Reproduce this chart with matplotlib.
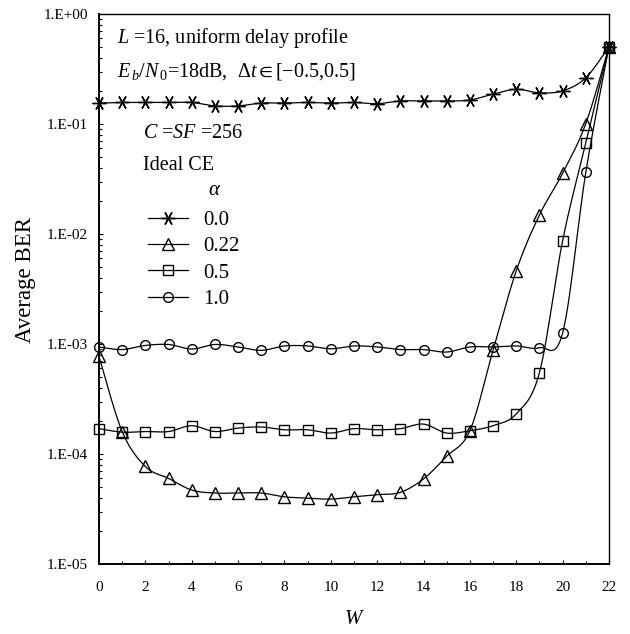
import numpy as np
import matplotlib
matplotlib.use("Agg")
import matplotlib.pyplot as plt
from matplotlib.lines import Line2D
from matplotlib.ticker import FixedLocator, FixedFormatter, NullFormatter

plt.rcParams['font.family'] = ['Liberation Serif', 'DejaVu Serif']
plt.rcParams['mathtext.fontset'] = 'custom'
plt.rcParams['mathtext.rm'] = 'Liberation Serif'
plt.rcParams['mathtext.it'] = 'Liberation Serif:italic'
plt.rcParams['mathtext.bf'] = 'Liberation Serif:bold'
plt.rcParams['mathtext.fallback'] = 'stix'

# ---------------- data ----------------
W = list(range(0, 23))
alpha_labels = ['0.0', '0.22', '0.5', '1.0']
ber_a00 = [0.155, 0.157, 0.157, 0.157, 0.157, 0.146, 0.146, 0.155, 0.155, 0.157, 0.155,
           0.157, 0.153, 0.162, 0.162, 0.162, 0.165, 0.187, 0.207, 0.192, 0.200, 0.263, 0.505]
ber_a022 = [7.7e-4, 1.60e-4, 7.7e-5, 6.0e-5, 4.7e-5, 4.42e-5, 4.42e-5, 4.42e-5, 4.08e-5,
            3.97e-5, 3.89e-5, 4.08e-5, 4.27e-5, 4.48e-5, 5.94e-5, 9.55e-5, 1.63e-4, 8.8e-4,
            4.64e-3, 0.0149, 0.0356, 0.101, 0.505]
ber_a05 = [1.70e-4, 1.58e-4, 1.60e-4, 1.60e-4, 1.81e-4, 1.60e-4, 1.72e-4, 1.76e-4, 1.66e-4,
           1.66e-4, 1.55e-4, 1.70e-4, 1.66e-4, 1.70e-4, 1.87e-4, 1.55e-4, 1.63e-4, 1.81e-4,
           2.32e-4, 5.5e-4, 8.7e-3, 0.0676, 0.505]
ber_a10 = [9.4e-4, 8.9e-4, 9.7e-4, 9.9e-4, 9.0e-4, 9.9e-4, 9.4e-4, 8.75e-4, 9.6e-4, 9.6e-4,
           9.05e-4, 9.6e-4, 9.4e-4, 8.9e-4, 8.9e-4, 8.45e-4, 9.4e-4, 9.4e-4, 9.6e-4, 9.25e-4,
           1.26e-3, 0.0364, 0.505]
series = [ber_a00, ber_a022, ber_a05, ber_a10]
markers = [(6, 2, 90), '^', 's', 'o']
msizes = [10.0, 8.0, 6.8, 7.0]

xticks = list(range(0, 23, 2))
yticks = [1e-5, 1e-4, 1e-3, 1e-2, 1e-1, 1e0]
ytick_labels = ['1.E-05', '1.E-04', '1.E-03', '1.E-02', '1.E-01', '1.E+00']

# ---------------- helpers ----------------
FW, FH = 630, 634


def fx(px):
    return px / FW


def fy(py):
    return 1 - py / FH


def smooth_curve(x, y, n=24):
    """Excel-like smoothed line (uniform Catmull-Rom / Bezier) in x, log10(y) space."""
    x = np.asarray(x, float)
    ly = np.log10(np.asarray(y, float))
    P = np.column_stack([x, ly])
    Pp = np.vstack([P[0], P, P[-1]])
    out = []
    t = np.linspace(0, 1, n)[:, None]
    for i in range(1, len(Pp) - 2):
        p0, p1, p2, p3 = Pp[i - 1], Pp[i], Pp[i + 1], Pp[i + 2]
        c1 = p1 + (p2 - p0) / 6.0
        c2 = p2 - (p3 - p1) / 6.0
        seg = ((1 - t) ** 3) * p1 + 3 * ((1 - t) ** 2) * t * c1 + 3 * (1 - t) * t ** 2 * c2 + t ** 3 * p2
        out.append(seg if i == 1 else seg[1:])
    out = np.vstack(out)
    return out[:, 0], 10 ** out[:, 1]


# ---------------- figure ----------------
fig = plt.figure(figsize=(6.3, 6.34), dpi=100)
ax = fig.add_axes([fx(99), fy(564), fx(609) - fx(99), fy(14) - fy(564)])
ax.set_yscale('log')
ax.set_xlim(0, 22)
ax.set_ylim(1e-5, 1)

for ys, mk, ms in zip(series, markers, msizes):
    sx, sy = smooth_curve(W, ys)
    ax.plot(sx, sy, color='black', lw=0.9, zorder=2, clip_on=False)
    ax.plot(W, ys, linestyle='none', marker=mk, ms=ms, mfc='none', mec='black',
            mew=1.0, zorder=3, clip_on=False)

# ticks
ax.xaxis.set_major_locator(FixedLocator(xticks))
ax.xaxis.set_minor_locator(FixedLocator(list(range(1, 22, 2))))
ax.xaxis.set_minor_formatter(NullFormatter())
ax.yaxis.set_major_locator(FixedLocator(yticks))
ax.yaxis.set_major_formatter(FixedFormatter(ytick_labels))
ax.tick_params(axis='both', which='major', direction='in', length=3.2, width=0.8,
               labelsize=11, top=False, right=False)
ax.tick_params(axis='both', which='minor', direction='in', length=2.4, width=0.8,
               top=False, right=False)
ax.tick_params(axis='x', which='major', pad=12)
ax.tick_params(axis='y', which='major', pad=8)

for s in ['left', 'bottom']:
    ax.spines[s].set_linewidth(1.4)
for s in ['top', 'right']:
    ax.spines[s].set_linewidth(1.0)

# axis labels
fig.text(fx(25), fy(280), 'Average BER', rotation=90, ha='center', va='center', fontsize=16.5)
fig.text(fx(354), fy(620), r'$W$', ha='center', va='center', fontsize=15)

# annotations
fig.text(fx(116.7), fy(43.3), r'$L$ =16, uniform delay profile', ha='left', va='baseline', fontsize=14.5)
fig.text(fx(116.7), fy(76.7), r'$E_{\,b}/N_{\,0}$=18dB,  $\Delta t\in[-0.5{,}0.5]$', ha='left',
         va='baseline', fontsize=14.5)
fig.text(fx(143.3), fy(138.3), r'$C$ =$SF$ =256', ha='left', va='baseline', fontsize=14.5)
fig.text(fx(143.3), fy(170), 'Ideal CE', ha='left', va='baseline', fontsize=14.5)
fig.text(fx(215), fy(195), r'$\alpha$', ha='center', va='baseline', fontsize=15)

# legend
handles = [Line2D([], [], color='black', lw=0.9, marker=mk, ms=ms, mfc='none', mec='black', mew=1.0)
           for mk, ms in zip(markers, msizes)]
leg = ax.legend(handles, alpha_labels, loc='upper left', bbox_to_anchor=(fx(148), fy(210.5)),
                bbox_transform=fig.transFigure, frameon=False, fontsize=15, borderpad=0,
                borderaxespad=0, handlelength=1.9, handletextpad=0.75, labelspacing=0.32)

fig.savefig('out.png', dpi=100)
